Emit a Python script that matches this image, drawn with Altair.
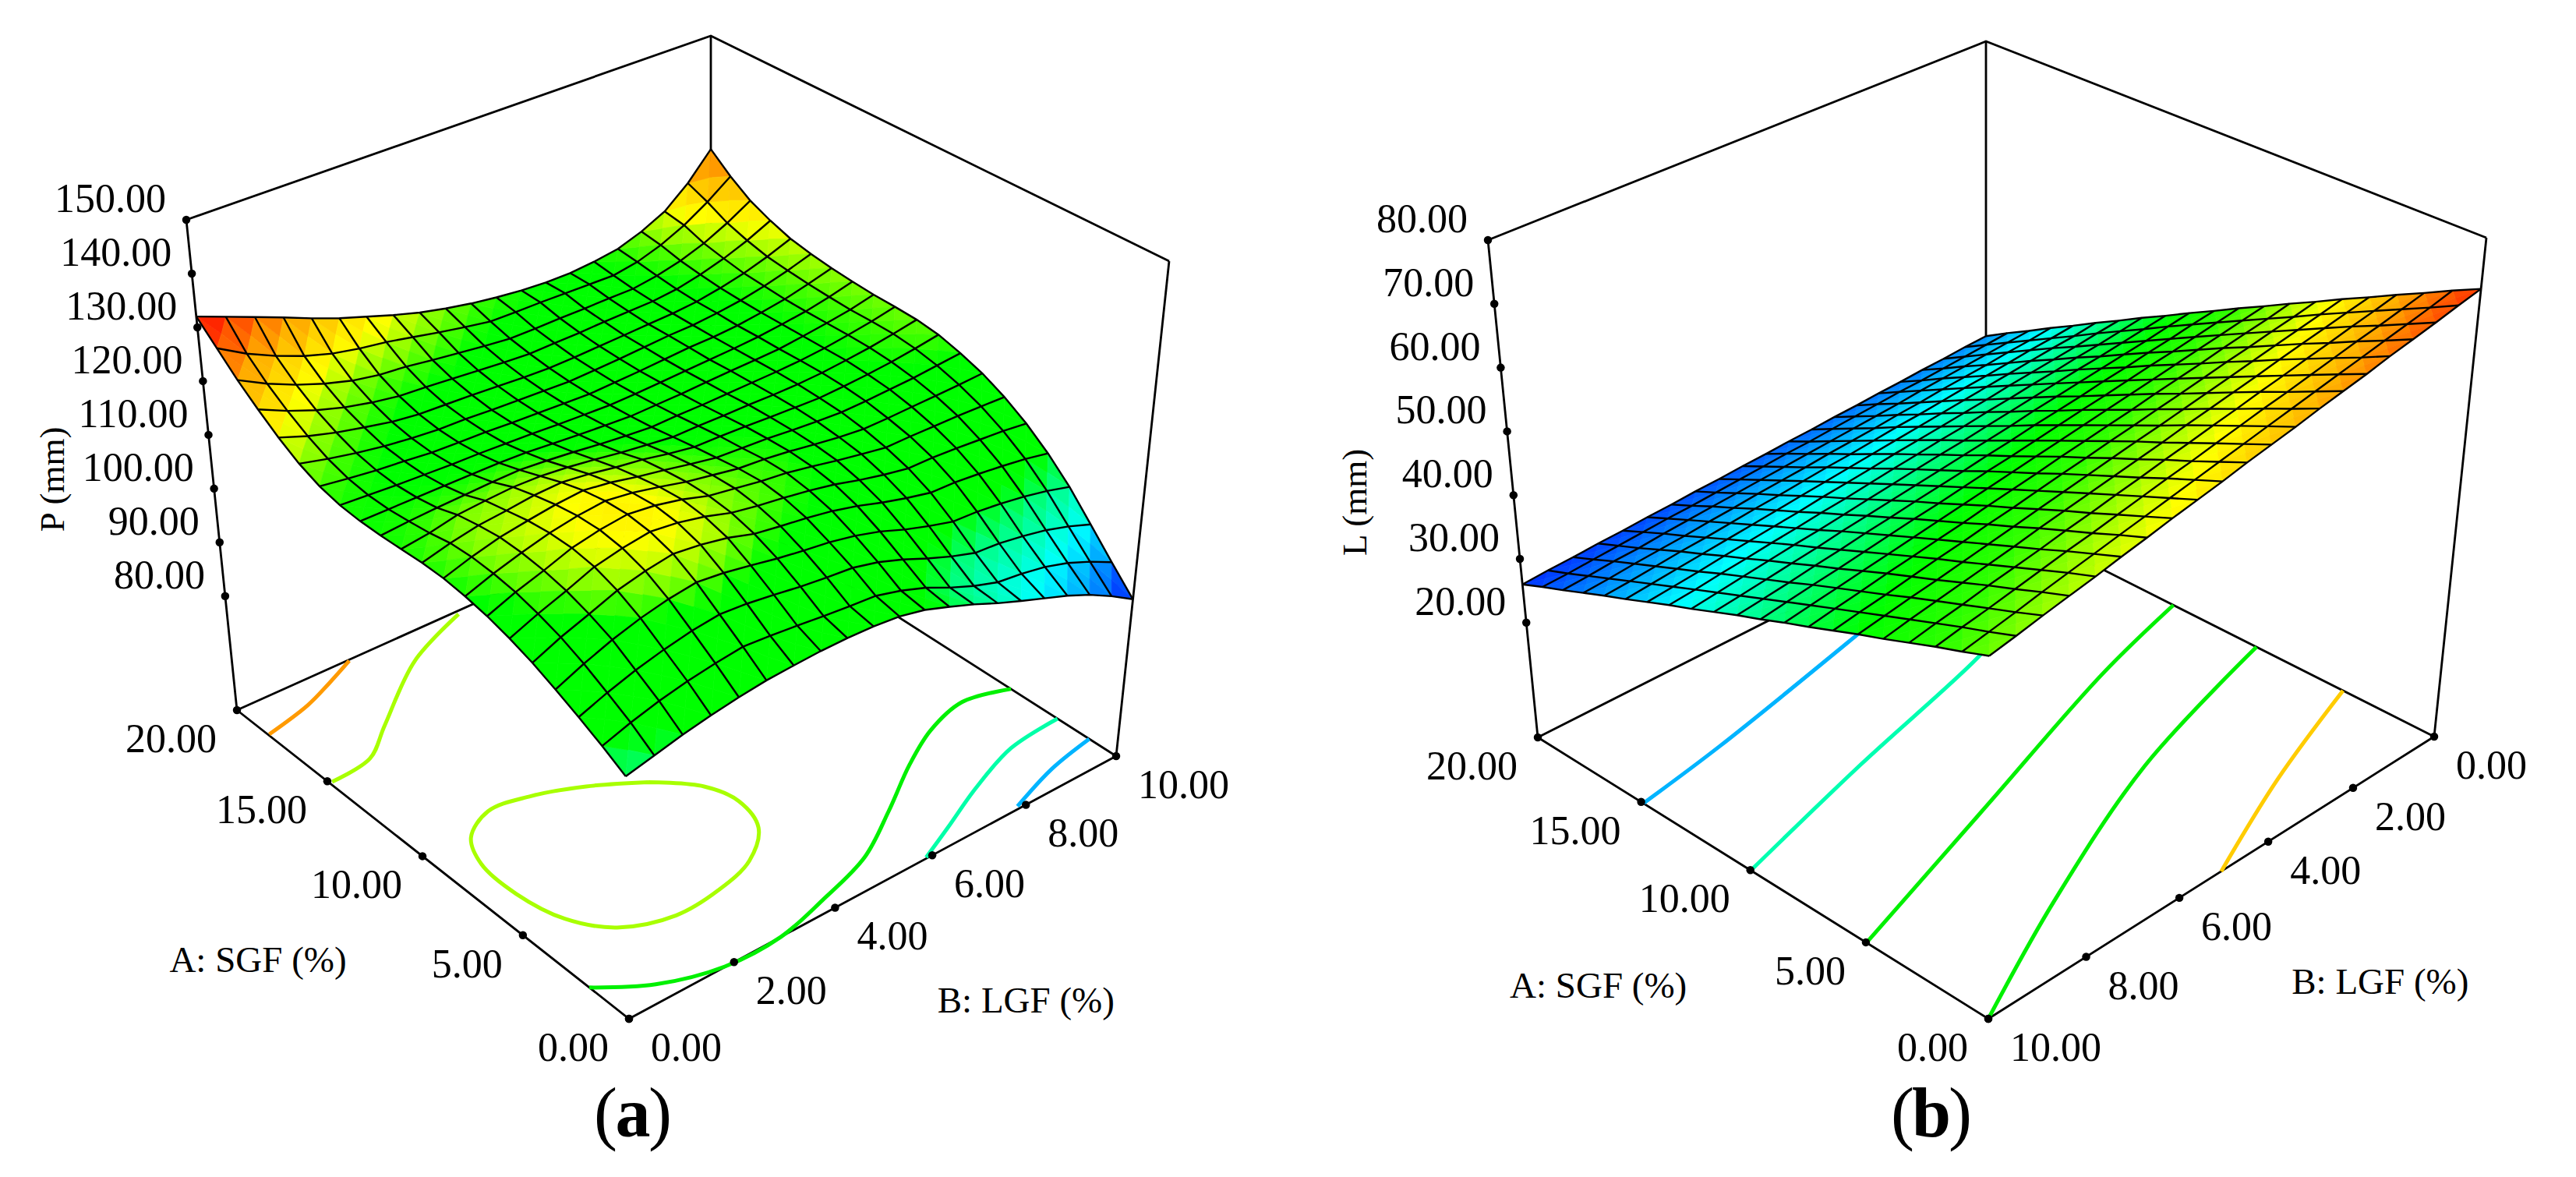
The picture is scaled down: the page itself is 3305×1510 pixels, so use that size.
import numpy as np
import pandas as pd
import altair as alt

alt.data_transformers.disable_max_rows()

# ------------------------------------------------------------------ values
A_TICKS = [0, 5, 10, 15, 20]
B_TICKS = [0, 2, 4, 6, 8, 10]
Z_TICKS_P = [80, 90, 100, 110, 120, 130, 140, 150]
Z_TICKS_L = [20, 30, 40, 50, 60, 70, 80]

# rows: B = 0, 0.5 ... 10; columns: A = 0, 1 ... 20
SURFACE_P = [
 [102,104.4,106.6,108.6,110.5,112,113.2,114,114.5,114.6,114.4,114.2,114.2,114.5,115.4,117,119.3,122,125,128.5,132],
 [103.2,106.1,108.5,110.8,112.7,114.1,115.2,115.8,116.1,115.9,115.1,114.6,114.2,114.2,114.7,115.8,117.5,119.7,122.3,125.5,130],
 [104.4,107.5,110.1,112.7,114.5,115.9,116.8,117.3,117.4,116.9,116.2,114.9,114.2,113.9,114.1,114.8,116.1,117.8,120.1,123.1,128],
 [105.4,108.6,111.4,114.2,116.4,117.9,118.6,118.6,118.2,117.4,116.6,115.1,114.2,113.7,113.7,114,115,116.3,118.3,121.1,126],
 [106.2,109.4,112.4,115.3,117.6,119,119.6,119.5,118.9,118,116.9,115.3,114.2,113.5,113.2,113.4,114,115.2,116.9,119.6,123.9],
 [106.8,110,113,116,118.4,119.7,120.2,120,119.3,118.2,116.8,115.4,114.2,113.4,113,113,113.4,114.4,116,118.6,122],
 [107.1,109.6,112.6,115.4,117.8,119.1,119.6,119.3,118.6,117.6,116.3,115,114,113.2,112.9,112.9,113.2,114.1,115.6,117.9,120.4],
 [107.3,109.1,111.9,114.5,116.8,118,118.5,118.2,117.5,116.7,115.6,114.5,113.6,113,112.6,112.6,113,113.7,114.9,116.9,118.8],
 [107.3,108.5,111.1,113.5,115.3,116.5,117,117,116.6,116,114.8,113.9,113.2,112.7,112.4,112.4,112.7,113.3,114.3,115.9,117.4],
 [107.1,108,110.5,112.7,114.5,115.6,116.2,116.1,115.6,115,114.2,113.4,112.9,112.5,112.2,112.2,112.4,112.9,113.7,115,116.3],
 [106.6,107.6,110,112,113.8,114.9,115.4,115.2,114.7,114.2,113.6,113,112.6,112.3,112,112,112.2,112.6,113.2,114.2,115.4],
 [105.5,106.3,108.8,111,112.9,114.1,114.8,114.8,114.4,114.1,113.6,113.1,112.7,112.4,112.2,112.2,112.3,112.7,113.2,114.1,114.7],
 [103.8,104.6,107.1,109.6,111.7,113.1,113.9,114.2,114.1,113.9,113.5,113.1,112.8,112.6,112.4,112.4,112.5,112.8,113.3,114.1,114.2],
 [102,102.4,105.1,107.8,110.2,111.8,112.9,113.4,113.6,113.6,113.5,113.2,113,112.8,112.7,112.7,112.7,113,113.3,114,113.9],
 [100,100.5,103.3,106.3,108.9,110.7,112,112.7,113.2,113.4,113.4,113.3,113.2,113,113,113,112.9,113.1,113.4,113.9,113.9],
 [98.2,99,101.8,105,107.8,109.8,111.2,112.2,112.9,113.2,113.4,113.4,113.3,113.2,113.1,113.1,113.1,113.2,113.4,113.8,114.3],
 [96.5,98.4,101.4,104.7,107.6,109.7,111.2,112.2,113,113.4,113.6,113.6,113.5,113.5,113.4,113.5,113.5,113.7,114.1,114.6,115],
 [94.8,97.5,100.6,104.1,107.1,109.4,111.1,112.3,113.2,113.7,114,114,114,114,114,114.1,114.3,114.7,115.2,116.1,116.6],
 [92.8,96.1,99.6,103.3,106.5,109,111,112.4,113.4,114.1,114.5,114.6,114.6,114.6,114.7,115,115.3,116,116.8,118.2,118.8],
 [90.4,94.2,98.2,102.3,105.8,108.6,110.8,112.5,113.8,114.7,115.2,115.3,115.3,115.5,115.8,116.2,116.7,117.7,119,121,122.6],
 [87.7,92,96.5,101,104.8,108,110.6,112.7,114.2,115.4,116,116.2,116.3,116.6,117,117.6,118.4,119.8,121.6,124.3,127.6],
]
SURFACE_L = [
 [72,70,67.9,65.9,63.8,61.8,59.7,57.7,55.6,53.6,51.5,49.5,47.4,45.4,43.3,41.3,39.2,37.2,35.1,33.1,31],
 [71.2,69.1,67.1,65.1,63.1,61.1,59,57,55,53,51,49,46.9,44.9,42.9,40.8,38.8,36.8,34.8,32.8,30.8],
 [70.3,68.3,66.3,64.4,62.4,60.4,58.4,56.4,54.4,52.4,50.4,48.4,46.4,44.4,42.4,40.5,38.5,36.5,34.5,32.5,30.5],
 [69.5,67.5,65.6,63.6,61.7,59.7,57.7,55.8,53.8,51.8,49.9,47.9,45.9,44,42,40.1,38.1,36.1,34.2,32.2,30.3],
 [68.7,66.7,64.8,62.9,61,59,57.1,55.1,53.2,51.3,49.3,47.4,45.5,43.5,41.6,39.7,37.7,35.8,33.9,31.9,30],
 [67.8,65.9,64,62.1,60.2,58.3,56.4,54.5,52.6,50.7,48.8,46.9,45,43.1,41.2,39.3,37.4,35.5,33.6,31.7,29.8],
 [67,65.1,63.2,61.4,59.5,57.6,55.7,53.9,52,50.1,48.2,46.4,44.5,42.6,40.7,38.9,37,35.1,33.2,31.4,29.5],
 [66.2,64.3,62.5,60.6,58.8,56.9,55.1,53.2,51.4,49.6,47.7,45.9,44,42.2,40.3,38.5,36.6,34.8,32.9,31.1,29.3],
 [65.3,63.5,61.7,59.9,58.1,56.2,54.4,52.6,50.8,49,47.2,45.3,43.5,41.7,39.9,38.1,36.3,34.4,32.6,30.8,29],
 [64.5,62.7,60.9,59.1,57.3,55.6,53.8,52,50.2,48.4,46.6,44.8,43,41.3,39.5,37.7,35.9,34.1,32.3,30.5,28.8],
 [63.7,61.9,60.1,58.4,56.6,54.9,53.1,51.4,49.6,47.8,46.1,44.3,42.6,40.8,39.1,37.3,35.5,33.8,32,30.3,28.5],
 [62.8,61.1,59.4,57.6,55.9,54.2,52.5,50.7,49,47.3,45.5,43.8,42.1,40.4,38.6,36.9,35.2,33.4,31.7,30,28.3],
 [62,60.3,58.6,56.9,55.2,53.5,51.8,50.1,48.4,46.7,45,43.3,41.6,39.9,38.2,36.5,34.8,33.1,31.4,29.7,28],
 [61.2,59.5,57.8,56.1,54.5,52.8,51.1,49.5,47.8,46.1,44.5,42.8,41.1,39.4,37.8,36.1,34.4,32.8,31.1,29.4,27.8],
 [60.3,58.7,57,55.4,53.8,52.1,50.5,48.8,47.2,45.6,43.9,42.3,40.6,39,37.3,35.7,34.1,32.4,30.8,29.1,27.5],
 [59.5,57.9,56.3,54.6,53,51.4,49.8,48.2,46.6,45,43.4,41.8,40.1,38.5,36.9,35.3,33.7,32.1,30.5,28.9,27.3],
 [58.6,57.1,55.5,53.9,52.3,50.7,49.2,47.6,46,44.4,42.8,41.2,39.7,38.1,36.5,34.9,33.3,31.7,30.2,28.6,27],
 [57.8,56.3,54.7,53.2,51.6,50,48.5,47,45.4,43.8,42.3,40.7,39.2,37.6,36.1,34.5,33,31.4,29.8,28.3,26.8],
 [57,55.4,53.9,52.4,50.9,49.4,47.8,46.3,44.8,43.3,41.7,40.2,38.7,37.2,35.6,34.1,32.6,31.1,29.6,28,26.5],
 [56.1,54.6,53.2,51.7,50.2,48.7,47.2,45.7,44.2,42.7,41.2,39.7,38.2,36.7,35.2,33.7,32.2,30.7,29.2,27.7,26.3],
 [55.3,53.8,52.4,50.9,49.4,48,46.5,45,43.6,42.1,40.7,39.2,37.7,36.3,34.8,33.3,31.9,30.4,28.9,27.5,26],
]

# contour lines on the floor: (A, B) pairs
CONTOURS_P = [
 ("#ff9a00", [(18.24,0.02),(18.76,0.95),(19.3,1.55),(19.95,2.2)]),
 ("#a8ff00", [(14.88,0.05),(15.12,0.87),(16.26,1.57),(18.56,3.02),(19.83,4.4)]),
 ("#a8ff00", [(8.49,3.85),(7.19,4.45),(5.9,4.62),(4.48,4.41),(3.4,3.76),(2.9,2.92),(2.79,2.05),(3.48,1.19),
              (4.81,0.72),(6.69,0.53),(8.53,0.57),(9.79,0.85),(10.52,1.46),(10.29,2.2),(9.57,3.03),(8.49,3.85)]),
 ("#00f000", [(1.84,0),(0.7,0.79),(0.02,1.83),(0,2.92),(0.51,3.97),(1.26,5.17),(2.51,6.24),(3.89,7.32),
              (4.82,8.21),(5.31,9.13),(4.82,10)]),
 ("#00ffa8", [(0.04,5.89),(0.71,6.66),(1.64,7.7),(2.46,8.86),(2.66,10)]),
 ("#00b4ff", [(0.11,7.87),(0.83,8.98),(1.21,10)]),
]
CONTOURS_L = [
 ("#00b4ff", [(14.9,9.99),(15.58,8.14),(17.26,4.42),(17.7,3.5)]),
 ("#00ffb0", [(9.99,9.98),(11.69,6.96),(13.49,3.45),(14.2,2.5)]),
 ("#00f000", [(4.98,9.99),(7.32,6.39),(9.93,2.37),(11.14,0)]),
 ("#00f000", [(0,10),(2.53,7.34),(5.39,3.82),(7.45,0)]),
 ("#ffcc00", [(0,5.07),(1.96,2.65),(3.75,0)]),
]

# ------------------------------------------------------------------ view settings of the two panels
VIEW_P = dict(floor={(0,0):(807,1307),(20,0):(304,911),(0,10):(1432,970),(20,10):(912,638)},
              top={(20,0):(239,282),(0,10):(1500,335),(20,10):(912,46)}, zf=58.8, zt=150,
              bl=0, br=10, ztitle="P (mm)", ztitle_at=110, ztitle_off=(-200,57), ticks=Z_TICKS_P, tag="a",
              btitle_off=(182,154), atitle_off=(-211,135), tag_x=(777,812,847), tag_y=1431,
              zt_font=45)
VIEW_L = dict(floor={(0,10):(2551,1307),(20,10):(1973,946),(0,0):(3123,945),(20,0):(2548,655)},
              top={(20,10):(1909,308),(0,0):(3190,305),(20,0):(2548,53)}, zf=2.0, zt=80,
              bl=10, br=0, ztitle="L (mm)", ztitle_at=50, ztitle_off=(-195,91), ticks=Z_TICKS_L, tag="b",
              btitle_off=(200,146), atitle_off=(-195,150), tag_x=(2441,2478,2515), tag_y=1431,
              zt_font=45)

FONT = "Liberation Serif"
TICK_FONT, TITLE_FONT, TAG_FONT = 52, 47, 90
W, H = 3285, 1490
X_SCALE = alt.Scale(domain=[8, 8 + W], range=[0, W], nice=False, zero=False)
Y_SCALE = alt.Scale(domain=[8 + H, 8], range=[H, 0], nice=False, zero=False)
X = alt.X("x:Q", scale=X_SCALE, axis=None)
Y = alt.Y("y:Q", scale=Y_SCALE, axis=None)


def homography(pairs):
    rows, rhs = [], []
    for (a, b), (u, w) in pairs.items():
        rows.append([a, b, 1, 0, 0, 0, -u * a, -u * b]); rhs.append(u)
        rows.append([0, 0, 0, a, b, 1, -w * a, -w * b]); rhs.append(w)
    h = np.linalg.solve(np.array(rows, float), np.array(rhs, float))
    return np.array([[h[0], h[1], h[2]], [h[3], h[4], h[5]], [h[6], h[7], 1.0]])


def make_camera(v):
    Hm = homography(v["floor"])
    dz = v["zt"] - v["zf"]
    rows, rhs = [], []
    for (a, b), (u, w) in v["top"].items():
        n = Hm @ np.array([a, b, 1.0])
        rows.append([dz, 0, -u * dz]); rhs.append(u * n[2] - n[0])
        rows.append([0, dz, -w * dz]); rhs.append(w * n[2] - n[1])
    p = np.linalg.lstsq(np.array(rows), np.array(rhs), rcond=None)[0]
    # the front top corner is not drawn: it follows from the camera
    n = Hm @ np.array([0.0, v["bl"], 1.0]) + p * dz
    tops = dict(v["top"])
    tops[(0, v["bl"])] = (n[0] / n[2], n[1] / n[2])
    Ht = homography(tops)

    # z runs evenly along each vertical edge, as the evenly spaced ticks show
    def project(a, b, z):
        q = np.array([a, b, 1.0])
        f = Hm @ q
        g = Ht @ q
        t = (z - v["zf"]) / dz
        fx, fy = f[0] / f[2], f[1] / f[2]
        gx, gy = g[0] / g[2], g[1] / g[2]
        return float(fx + (gx - fx) * t), float(fy + (gy - fy) * t), float(f[2])
    return project


def surface_tables(v, grid, project):
    G = np.array(grid, float)
    tris, lines = [], []
    nt = 0
    cells = []
    for j in range(20):
        for i in range(20):
            corners = [(i, j), (i + 1, j), (i + 1, j + 1), (i, j + 1)]
            pts = [(c[0] * 1.0, c[1] * 0.5, G[c[1], c[0]]) for c in corners]
            cen = tuple(np.mean(pts, axis=0))
            depth = project(*cen)[2]
            cells.append((depth, pts, cen))
    cells.sort(key=lambda c: -c[0])
    for _, pts, cen in cells:
        for q in range(4):
            tri = [pts[q], pts[(q + 1) % 4], cen]
            zv = float(np.mean([t[2] for t in tri]))
            for k, t in enumerate(tri):
                x, y, _d = project(*t)
                tris.append(dict(tid=nt, k=k, x=round(x, 1), y=round(y, 1), z=round(zv, 2)))
            nt += 1
    lid = 0
    for j in range(21):
        for i in range(21):
            x, y, _d = project(float(i), j * 0.5, G[j, i])
            lines.append(dict(lid=lid, k=i, x=round(x, 1), y=round(y, 1)))
        lid += 1
    for i in range(21):
        for j in range(21):
            x, y, _d = project(float(i), j * 0.5, G[j, i])
            lines.append(dict(lid=lid, k=j, x=round(x, 1), y=round(y, 1)))
        lid += 1
    return pd.DataFrame(tris), pd.DataFrame(lines)


def frame_table(v, project):
    bl, br, zf, zt = v["bl"], v["br"], v["zf"], v["zt"]
    paths = [
        [(20, bl, zf), (0, bl, zf), (0, br, zf)],
        [(20, bl, zf), (20, br, zf), (0, br, zf)],
        [(20, bl, zt), (20, br, zt), (0, br, zt)],
        [(20, bl, zf), (20, bl, zt)],
        [(20, br, zf), (20, br, zt)],
        [(0, br, zf), (0, br, zt)],
    ]
    out = []
    for n, path in enumerate(paths):
        for k, (a, b, z) in enumerate(path):
            x, y, _d = project(a, b, z)
            out.append(dict(pid=n, k=k, x=x, y=y))
    return pd.DataFrame(out)


def contour_table(v, contours, project):
    out = []
    for n, (col, pts) in enumerate(contours):
        for k, (a, b) in enumerate(pts):
            x, y, _d = project(a, b, v["zf"])
            out.append(dict(cid=n, k=k, x=x, y=y, col=col))
    return pd.DataFrame(out)


def tick_tables(v, project):
    dots, ar, al = [], [], []
    bl, zf = v["bl"], v["zf"]
    for z in v["ticks"]:
        x, y, _d = project(20, bl, z)
        dots.append(dict(x=x, y=y))
        ar.append(dict(x=x - 26, y=y - 26, t="%.2f" % z))
    for a in A_TICKS:
        x, y, _d = project(a, bl, zf)
        dots.append(dict(x=x, y=y))
        ar.append(dict(x=x - 26, y=y + 38, t="%.2f" % a))
    for b in B_TICKS:
        x, y, _d = project(0, b, zf)
        dots.append(dict(x=x, y=y))
        al.append(dict(x=x + 28, y=y + 38, t="%.2f" % b))
    return pd.DataFrame(dots), pd.DataFrame(ar), pd.DataFrame(al)


def text_layer(df, size, align="center", bold=False, angle=None):
    kw = dict(font=FONT, fontSize=size, align=align, baseline="middle", color="black")
    if bold:
        kw["fontWeight"] = "bold"
    if angle is not None:
        kw["angle"] = angle
    return alt.Chart(df).mark_text(**kw).encode(x=X, y=Y, text="t:N")


def panel_layers(v, grid, contours, color_domain, color_range):
    project = make_camera(v)
    tris, lines = surface_tables(v, grid, project)
    frame = frame_table(v, project)
    cont = contour_table(v, contours, project)
    dots, ar, al = tick_tables(v, project)
    scale = alt.Scale(domain=color_domain, range=color_range, interpolate="rgb", clamp=True)

    bl, br, zf = v["bl"], v["br"], v["zf"]
    ax, ay, _ = project(10, bl, zf)
    bx, by, _ = project(0, 5, zf)
    tx, ty, _ = project(20, bl, v["ztitle_at"])
    titles = pd.DataFrame([
        dict(x=ax + v["atitle_off"][0], y=ay + v["atitle_off"][1], t="A: SGF (%)"),
        dict(x=bx + v["btitle_off"][0], y=by + v["btitle_off"][1], t="B: LGF (%)"),
    ])
    ztitle = pd.DataFrame([dict(x=tx + v["ztitle_off"][0], y=ty + v["ztitle_off"][1], t=v["ztitle"])])
    parens = pd.DataFrame([dict(x=v["tag_x"][0], y=v["tag_y"], t="("), dict(x=v["tag_x"][2], y=v["tag_y"], t=")")])
    tag = pd.DataFrame([dict(x=v["tag_x"][1], y=v["tag_y"], t=v["tag"])])

    return [
        alt.Chart(frame).mark_line(color="black", strokeWidth=2.8).encode(x=X, y=Y, detail="pid:N", order="k:Q"),
        alt.Chart(cont).mark_line(strokeWidth=5, interpolate="catmull-rom").encode(
            x=X, y=Y, detail="cid:N", order="k:Q", color=alt.Color("col:N", scale=None)),
        alt.Chart(tris).mark_line(filled=True, strokeWidth=0.7, interpolate="linear-closed").encode(
            x=X, y=Y, detail="tid:N", order="k:Q",
            color=alt.Color("z:Q", scale=scale, legend=None),
            stroke=alt.Stroke("z:Q", scale=scale, legend=None)),
        alt.Chart(lines).mark_line(color="black", strokeWidth=2.4).encode(x=X, y=Y, detail="lid:N", order="k:Q"),
        alt.Chart(dots).mark_point(filled=True, color="black", size=110, opacity=1).encode(x=X, y=Y),
        text_layer(ar, TICK_FONT, align="right"),
        text_layer(al, TICK_FONT, align="left"),
        text_layer(titles, TITLE_FONT),
        text_layer(ztitle, v["zt_font"], angle=270),
        text_layer(parens, TAG_FONT),
        text_layer(tag, TAG_FONT, bold=True),
    ]


left = panel_layers(VIEW_P, SURFACE_P, CONTOURS_P,
                    [87.7, 92, 97, 102, 105, 114, 116.5, 119.3, 125, 132],
                    ["#0010ff", "#0080ff", "#00ffff", "#00ff80", "#00ff00", "#00ff00", "#80ff00", "#ffff00", "#ffa000", "#ff0000"])
right = panel_layers(VIEW_L, SURFACE_L, CONTOURS_L,
                     [26, 37, 48, 53, 61, 66, 72],
                     ["#0030ff", "#00ffff", "#00ff00", "#30ff00", "#ffff00", "#ffb000", "#ff3000"])

chart = alt.layer(*left).resolve_scale(color="independent", stroke="independent")
chart2 = alt.layer(*right).resolve_scale(color="independent", stroke="independent")
chart = alt.layer(chart, chart2).resolve_scale(color="independent", stroke="independent").properties(
    width=W, height=H, padding=0, background="white"
).configure_view(stroke=None)

chart.save("out.html", embed_options={"renderer": "svg", "actions": False})
